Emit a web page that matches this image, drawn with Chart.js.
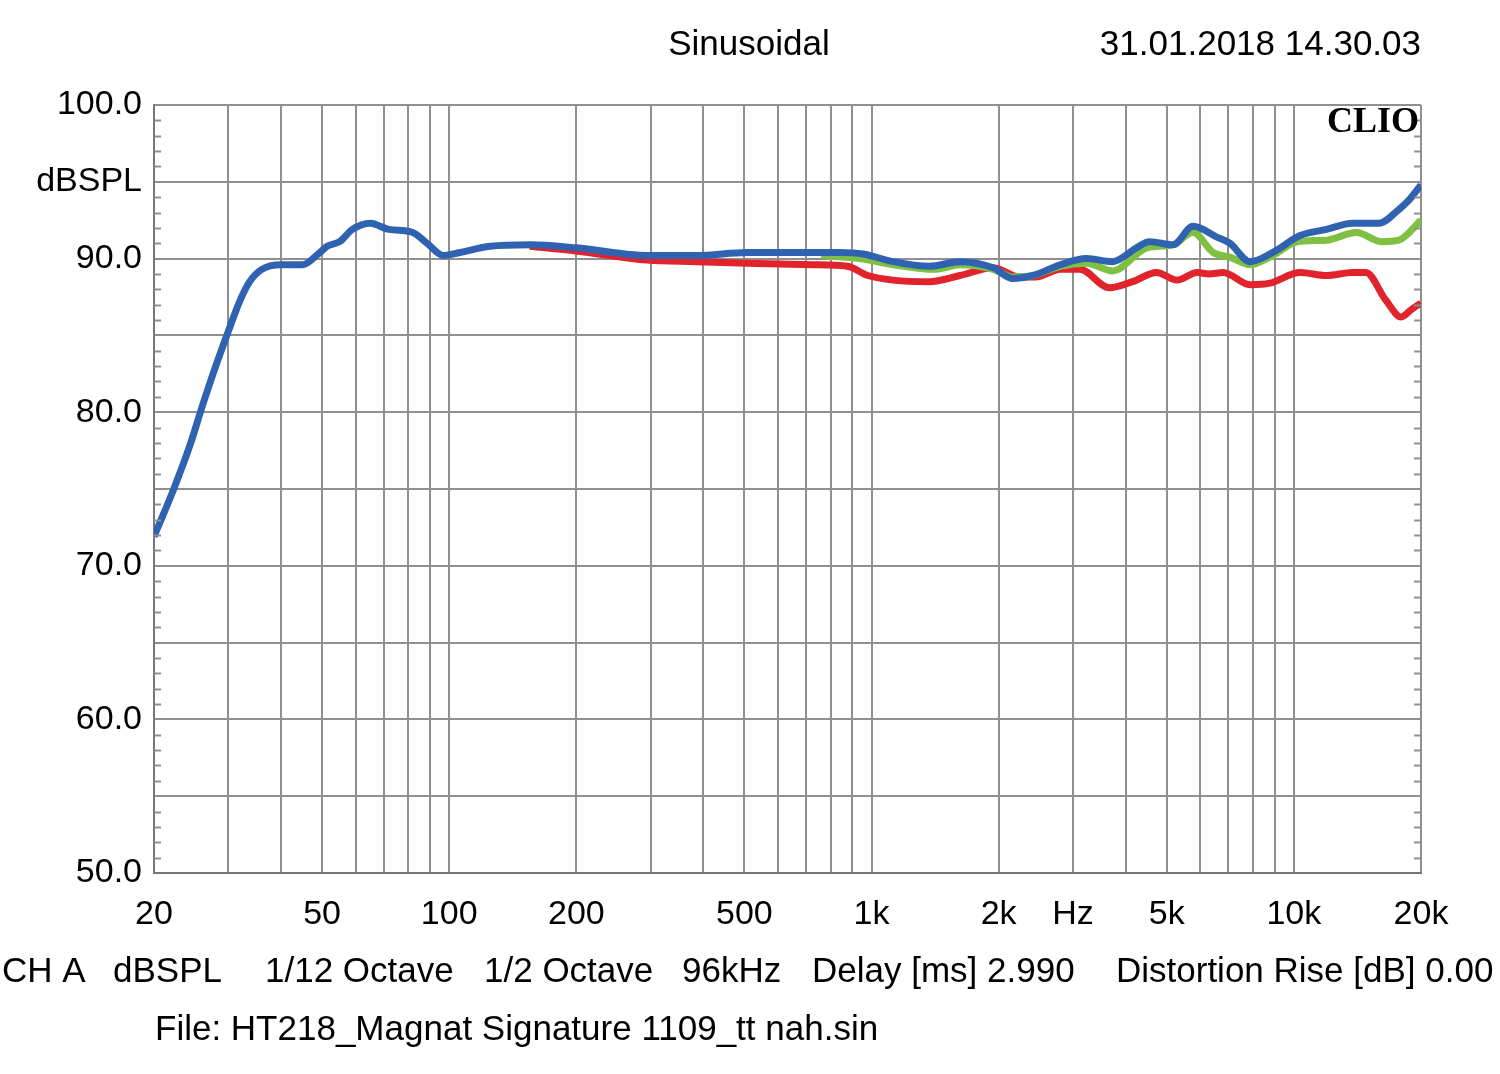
<!DOCTYPE html>
<html>
<head>
<meta charset="utf-8">
<script src="https://cdn.jsdelivr.net/npm/chart.js@4"></script>
<style>
html,body{margin:0;padding:0;background:#fff;}
#wrap{width:1500px;height:1074px;position:relative;}
</style>
</head>
<body>
<div id="wrap"><canvas id="c"></canvas></div>
<script>
// ---- data ----
const blueFreq = [20,22.2,24.3,26.1,28,30.3,32,33.7,36,40,45,49.4,51.4,55,59,65,72,82,88.6,97,106,125,155,200,294,386,507,727,841,955,1125,1370,1620,1940,2160,2410,2800,3230,3720,4240,4550,5180,5770,6570,7050,7880,8920,10340,11940,13760,15900,17730,18720,20000];
const blueDb   = [71.9,74.9,77.8,80.5,83.0,85.6,87.3,88.5,89.3,89.6,89.6,90.4,90.8,91.1,91.9,92.3,91.9,91.7,91.0,90.2,90.4,90.8,90.9,90.7,90.2,90.2,90.4,90.4,90.4,90.3,89.8,89.5,89.8,89.4,88.7,88.9,89.6,90.0,89.8,90.7,91.1,90.9,92.1,91.4,91.0,89.8,90.4,91.5,91.9,92.3,92.3,93.2,93.8,94.8];

const redFreq = [155,200,294,386,507,727,877,980,1125,1370,1620,1940,2240,2450,2800,3110,3660,4150,4730,5290,5900,6300,6800,7880,8770,10340,11940,13760,14800,16500,17950,19000,20000];
const redDb   = [90.8,90.5,89.9,89.8,89.7,89.6,89.5,88.9,88.6,88.5,88.9,89.4,88.8,88.8,89.3,89.3,88.1,88.5,89.1,88.6,89.1,89.0,89.1,88.3,88.4,89.1,88.9,89.1,89.1,87.3,86.2,86.7,87.1];

const greenFreq = [760,940,1125,1410,1620,1940,2160,2410,2800,3230,3720,4480,4820,5180,5770,6440,7050,7880,8920,10180,11940,14050,16160,17730,20000];
const greenDb   = [90.2,90.0,89.6,89.3,89.6,89.3,88.8,88.9,89.5,89.7,89.2,90.7,90.8,90.9,91.7,90.4,90.1,89.6,90.2,91.1,91.2,91.7,91.1,91.2,92.5];

const xTicks = [20,30,40,50,60,70,80,90,100,200,300,400,500,600,700,800,900,1000,2000,3000,4000,5000,6000,7000,8000,9000,10000,20000];
const xLabels = {20:'20',50:'50',100:'100',200:'200',500:'500',1000:'1k',2000:'2k',3000:'Hz',5000:'5k',10000:'10k',20000:'20k'};
const yLabels = {100:'100.0',95:'dBSPL',90:'90.0',80:'80.0',70:'70.0',60:'60.0',50:'50.0'};

const titleText = 'Sinusoidal';
const dateText = '31.01.2018 14.30.03';
const infoParts = [['CH A',2],['dBSPL',113],['1/12 Octave',265],['1/2 Octave',484],['96kHz',682],['Delay [ms] 2.990',812],['Distortion Rise [dB] 0.00',1116]];
const fileText = 'File: HT218_Magnat Signature 1109_tt nah.sin';

function pts(f,d){return f.map((v,i)=>({x:v,y:d[i]}));}

const FONT = '"Liberation Sans", Arial, sans-serif';
const GRID = '#8f8f8f';

const decor = {
  id:'decor',
  afterDraw(chart){
    const ctx = chart.ctx, a = chart.chartArea, ys = chart.scales.y;
    ctx.save();
    ctx.strokeStyle = GRID; ctx.lineWidth = 2;
    for(let v=51; v<100; v++){
      if(v%5===0) continue;
      const py = Math.round(ys.getPixelForValue(v))+0.5;
      ctx.beginPath(); ctx.moveTo(a.left, py); ctx.lineTo(a.left+7, py); ctx.stroke();
      ctx.beginPath(); ctx.moveTo(a.right-7, py); ctx.lineTo(a.right, py); ctx.stroke();
    }
    ctx.fillStyle = '#000';
    ctx.textBaseline = 'middle';
    ctx.font = '35px ' + FONT;
    ctx.textAlign = 'center';
    ctx.fillText(titleText, 749, 45);
    ctx.textAlign = 'right';
    ctx.fillText(dateText, 1421, 45);
    ctx.font = '35px ' + FONT;
    ctx.textAlign = 'left';
    infoParts.forEach(p=>ctx.fillText(p[0], p[1], 972));
    ctx.fillText(fileText, 155, 1030);
    ctx.font = 'bold 36px "Liberation Serif", "Times New Roman", serif';
    ctx.textAlign = 'right';
    ctx.fillText('CLIO', 1419, 123);
    ctx.restore();
  }
};

new Chart(document.getElementById('c'), {
  type:'line',
  data:{datasets:[
    {label:'blue', data:pts(blueFreq,blueDb), borderColor:'#2f63b1', borderWidth:7, pointRadius:0, cubicInterpolationMode:'monotone', order:1},
    {label:'green', data:pts(greenFreq,greenDb), borderColor:'#7fc043', borderWidth:7, pointRadius:0, cubicInterpolationMode:'monotone', order:2},
    {label:'red', data:pts(redFreq,redDb), borderColor:'#e1232b', borderWidth:7, pointRadius:0, cubicInterpolationMode:'monotone', order:3}
  ]},
  options:{
    responsive:true, maintainAspectRatio:false, animation:false,
    devicePixelRatio:1,
    layout:{padding:{left:0, top:105, right:79, bottom:141}},
    plugins:{legend:{display:false}, tooltip:{enabled:false}},
    scales:{
      x:{type:'logarithmic', min:20, max:20000,
        afterBuildTicks(s){ s.ticks = xTicks.map(v=>({value:v})); },
        afterFit(s){ s.height = 60; },
        ticks:{autoSkip:false, maxRotation:0, padding:21, color:'#000', font:{family:FONT, size:34},
          callback(v){ return xLabels[v] || ''; }},
        grid:{color:GRID, lineWidth:2, drawTicks:false},
        border:{color:'#777', width:2}
      },
      y:{type:'linear', min:50, max:100,
        afterBuildTicks(s){ const t=[]; for(let v=50; v<=100; v+=5) t.push({value:v}); s.ticks=t; },
        afterFit(s){ s.width = 154; },
        ticks:{autoSkip:false, padding:12, color:'#000', font:{family:FONT, size:34},
          callback(v){ return yLabels[v] || ''; }},
        grid:{color:GRID, lineWidth:2, drawTicks:false},
        border:{color:'#777', width:2}
      }
    }
  },
  plugins:[decor]
});
</script>
</body>
</html>
